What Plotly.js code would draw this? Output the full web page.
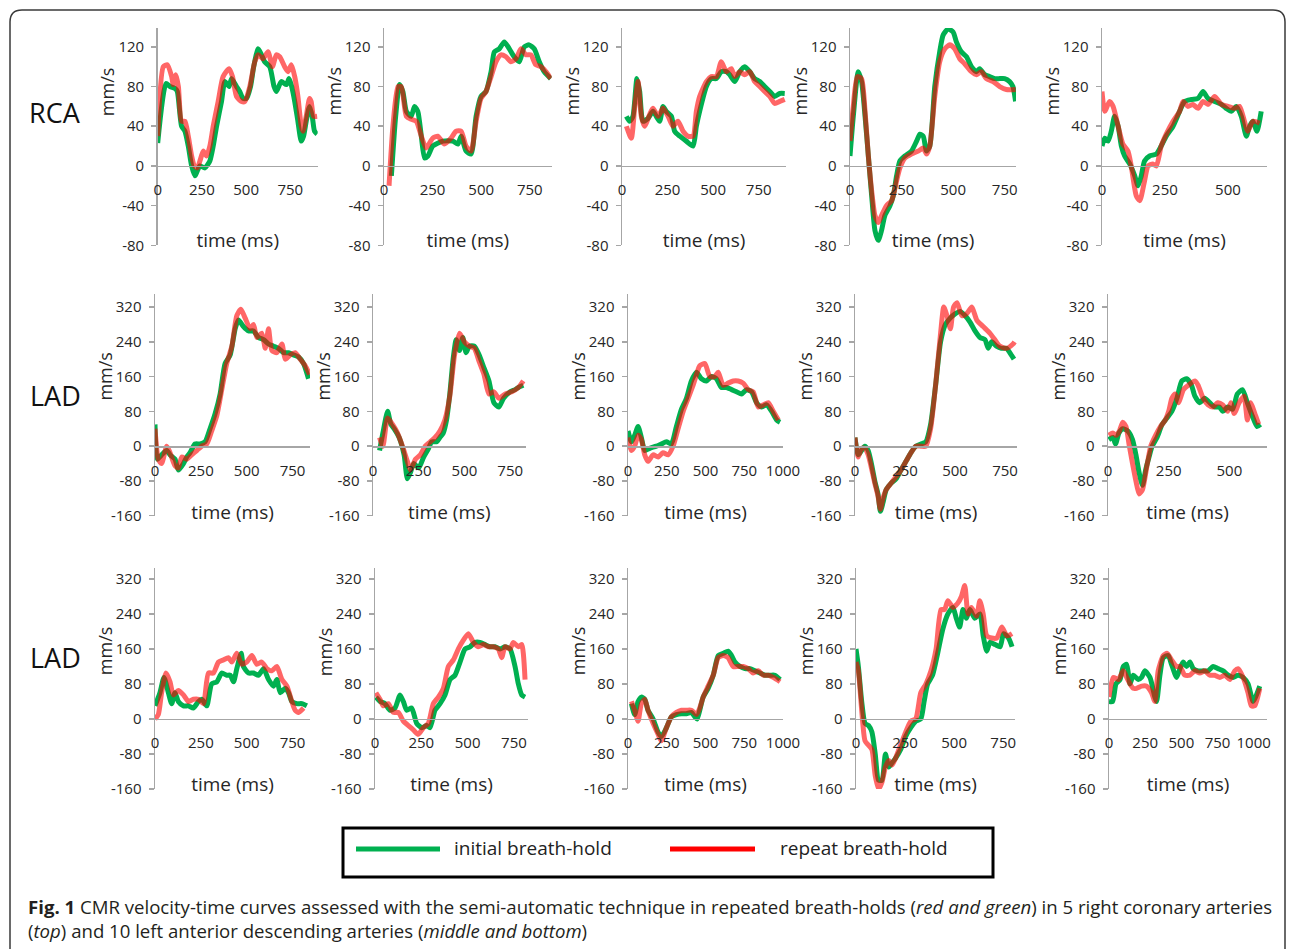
<!DOCTYPE html>
<html>
<head>
<meta charset="utf-8">
<script src="https://cdn.plot.ly/plotly-3.0.1.min.js"></script>
<style>html,body{margin:0;padding:0;background:#fff;}#chart{width:1295px;height:949px;}</style>
</head>
<body>
<div id="chart"></div>
<script>
// ---------------- DATA (time in ms, velocity in mm/s) ----------------
const rowLabels = ['RCA', 'LAD', 'LAD'];
const seriesNames = ['initial breath-hold', 'repeat breath-hold'];
const xTitle = 'time (ms)';
const yTitle = 'mm/s';
const rcaTickVals = [-80, -40, 0, 40, 80, 120];
const rcaTickText = ['-80', '-40', '0', '40', '80', '120'];
const ladTickVals = [-160, -80, 0, 80, 160, 240, 320];
const ladTickText = ['-160', '-80', '0', '80', '160', '240', '320'];

// RCA 1
const rca1_t_init = [0,47,70,98,111,135,154,173,192,211,224,239,267,295,314,333,361,380,404,417,446,464,483,502,525,543,568,587,605,634,658,671,699,728,743,758,775,793,812,825,840,859,874,887,902];
const rca1_v_init = [23,83,80,78,75,40,35,20,0,-10,-5,0,-2,5,20,40,65,85,80,88,80,75,68,68,80,100,118,112,105,100,80,75,85,82,88,80,65,45,25,30,45,60,50,35,32];
const rca1_t_rep = [0,32,55,79,88,103,117,135,154,173,192,207,224,239,258,276,295,314,342,370,404,423,446,474,493,521,549,568,596,624,649,671,690,718,737,756,775,793,812,822,840,859,868,882,902];
const rca1_v_rep = [30,100,102,90,82,92,80,45,45,30,10,0,-2,5,15,10,20,40,65,90,98,90,70,65,65,80,105,112,108,115,100,112,110,100,95,102,90,70,40,35,50,68,65,50,50];
// RCA 2
const rca2_t_init = [38,60,80,97,115,140,157,174,192,209,226,251,303,354,380,397,422,448,474,499,525,551,568,593,619,645,670,696,722,747,773,799,824,858];
const rca2_v_init = [-10,50,82,75,55,50,60,55,30,8,10,20,25,25,22,30,15,12,50,70,75,95,115,118,125,118,110,105,120,122,118,105,95,88];
const rca2_t_rep = [26,46,72,89,115,140,166,192,217,251,277,311,345,371,397,422,448,474,499,525,551,576,602,628,653,679,705,730,756,781,807,833,858];
const rca2_v_rep = [-20,40,80,80,50,47,45,30,18,28,30,22,28,35,35,20,15,45,68,75,90,105,112,110,105,108,118,112,112,102,100,95,88];
// RCA 3
const rca3_t_init = [24,42,60,82,97,115,143,170,188,207,225,243,271,289,317,353,390,408,426,463,490,518,545,573,591,619,646,673,701,728,756,783,811,838,866,893];
const rca3_v_init = [50,45,50,88,75,45,48,55,50,45,60,55,50,35,30,25,20,40,55,80,88,88,95,95,92,85,95,100,95,88,85,80,75,70,73,73];
const rca3_t_rep = [24,51,70,88,106,124,152,170,198,225,253,280,307,335,362,390,408,426,463,490,518,545,573,600,619,646,673,701,728,756,783,811,838,866,893];
const rca3_v_rep = [40,28,60,85,50,40,52,58,50,58,50,40,45,35,30,30,55,70,85,90,90,105,95,98,90,95,92,95,85,80,75,70,63,65,67];
// RCA 4
const rca4_t_init = [0,16,40,56,73,89,105,121,137,153,169,194,210,226,242,266,298,323,339,355,371,387,411,435,452,476,500,516,540,565,589,613,629,653,677,702,726,750,774,790,803];
const rca4_v_init = [10,50,95,85,50,10,-30,-65,-75,-65,-50,-40,-30,-10,5,10,15,25,32,30,15,20,80,115,132,138,135,125,115,110,100,95,98,92,90,88,88,88,85,80,65];
const rca4_t_rep = [0,16,35,56,73,89,105,121,137,153,177,202,226,242,266,298,331,355,371,387,411,435,460,484,508,532,556,589,613,637,661,694,726,758,803];
const rca4_v_rep = [25,60,90,88,55,10,-25,-50,-57,-50,-40,-35,-15,-2,8,12,15,18,12,20,70,105,118,122,118,108,103,95,92,95,88,85,80,77,77];
// RCA 5
const rca5_t_init = [0,11,24,37,50,64,77,90,110,130,143,156,169,189,216,235,255,282,308,328,355,381,401,421,447,474,493,513,533,553,573,586,599,615,632];
const rca5_v_init = [20,28,25,35,50,40,20,10,2,-10,-20,-10,5,10,12,20,30,40,55,65,67,68,75,68,65,62,58,55,60,50,30,40,45,35,55];
const rca5_t_rep = [0,11,30,44,64,83,103,116,136,150,169,183,202,216,235,255,282,308,322,341,361,381,401,421,447,474,500,526,546,560,579,599,626];
const rca5_v_rep = [75,55,65,60,40,22,15,0,-30,-35,-15,0,2,0,20,32,45,55,65,60,62,58,65,62,70,62,60,58,60,50,35,45,43];

// LAD 1
const lad1_t_init = [0,13,36,64,82,109,127,155,173,191,218,246,273,300,328,355,382,410,437,455,482,510,537,564,592,619,646,673,701,728,755,783,810,837];
const lad1_v_init = [50,-30,-20,-10,-20,-30,-55,-40,-25,-15,5,5,10,40,75,120,190,210,270,290,275,265,265,250,245,235,230,225,215,215,210,205,190,155];
const lad1_t_rep = [0,18,36,64,82,109,127,146,173,200,228,255,282,309,337,364,391,419,446,468,491,519,537,555,582,601,619,637,664,692,710,737,764,792,819,843];
const lad1_v_rep = [40,-30,-40,0,-15,-45,-50,-25,-30,-20,-10,0,5,35,70,130,190,230,300,315,295,270,280,250,260,225,270,220,215,235,200,210,215,200,185,165];
// LAD 2
const lad2_t_init = [36,54,80,98,116,143,170,188,205,223,250,277,304,321,348,366,384,402,420,438,455,473,491,509,527,554,580,607,634,661,688,714,750,777,795,822];
const lad2_v_init = [-10,30,80,50,40,20,-20,-75,-60,-40,-50,-25,-5,10,10,20,30,60,120,200,245,220,250,215,230,230,210,180,150,100,90,110,125,130,135,140];
const lad2_t_rep = [36,54,80,107,134,161,188,205,232,259,286,313,339,366,393,420,446,473,500,527,554,580,607,634,661,688,723,759,795,822];
const lad2_v_rep = [20,0,65,50,30,0,-35,-55,-30,-20,0,10,20,35,60,115,210,260,240,230,225,195,165,120,125,110,120,125,135,150];
// LAD 3
const lad3_t_init = [0,22,43,65,86,108,140,183,215,248,280,312,345,377,409,442,474,506,539,571,603,636,668,700,733,765,797,830,862,894,927,959,981];
const lad3_v_init = [35,10,25,45,20,-10,-5,0,5,10,5,45,85,110,150,170,155,150,160,155,135,135,130,125,120,130,125,100,90,95,80,60,55];
const lad3_t_rep = [0,22,43,65,86,108,129,162,194,226,259,291,323,356,388,420,442,463,496,528,560,582,614,646,679,711,743,776,808,840,873,905,937,970];
const lad3_v_rep = [20,-10,0,25,15,-20,-35,-20,-25,-15,-20,0,40,80,110,140,165,185,190,160,160,170,140,145,150,150,145,130,125,90,95,100,80,60];
// LAD 4
const lad4_t_init = [0,16,33,49,66,82,99,115,127,140,156,181,206,230,255,280,304,329,354,378,403,428,452,477,502,526,551,576,600,625,650,666,683,707,732,757,781,795];
const lad4_v_init = [20,-20,-10,0,-10,-40,-80,-110,-150,-130,-100,-85,-75,-55,-35,-15,0,5,10,50,140,240,280,295,305,310,300,285,265,250,245,225,240,230,225,225,210,200];
const lad4_t_rep = [0,16,33,49,66,82,99,115,127,140,156,181,206,230,255,280,304,329,354,378,403,428,444,460,477,493,510,535,559,584,609,641,674,699,724,757,790,798];
const lad4_v_rep = [20,-25,-5,-5,-20,-50,-85,-115,-145,-120,-100,-85,-70,-55,-35,-15,0,0,0,40,140,260,320,300,270,320,330,300,305,320,290,275,260,245,230,225,235,240];
// LAD 5
const lad5_t_init = [3,20,31,45,61,81,101,115,128,142,155,169,182,202,223,243,263,284,304,324,344,358,378,398,419,439,459,473,493,513,533,554,574,594,614,628];
const lad5_v_init = [15,20,5,30,40,35,15,-20,-60,-90,-55,-25,0,20,50,65,80,110,150,155,140,115,100,110,100,90,90,80,90,85,120,130,100,70,45,50];
const lad5_t_rep = [3,20,34,47,61,74,88,101,115,128,142,162,176,196,216,236,250,263,277,290,311,331,358,371,392,412,432,452,473,493,506,520,540,560,574,587,608,621];
const lad5_v_rep = [25,30,25,35,55,45,0,-40,-80,-110,-100,-40,0,25,45,60,80,110,120,100,130,140,150,140,110,95,90,100,95,80,100,75,100,115,60,100,70,50];

// LAD 6
const lad6_t_init = [0,27,49,73,91,109,127,155,182,209,237,255,282,309,337,364,391,410,428,446,470,482,510,537,564,592,619,646,664,683,710,728,746,773,801,828];
const lad6_v_init = [30,60,95,60,35,60,40,30,30,25,40,45,30,80,85,105,100,100,85,115,150,120,105,105,100,115,90,75,90,60,70,60,40,35,35,30];
const lad6_t_rep = [0,18,36,60,82,100,127,155,182,209,237,264,291,318,346,373,400,419,446,473,500,528,555,582,610,637,664,692,719,746,764,783,810];
const lad6_v_rep = [0,10,60,105,85,55,65,55,40,45,45,35,105,105,130,135,140,130,150,125,130,145,125,130,115,110,120,90,75,40,20,15,25];
// LAD 7
const lad7_t_init = [5,27,54,81,108,135,153,171,198,225,252,279,297,324,351,378,405,432,459,486,513,540,567,594,621,648,675,702,729,756,774,792,810];
const lad7_v_init = [50,40,35,20,25,55,40,20,25,-10,-20,-15,-20,20,35,55,90,100,130,160,165,175,175,170,165,165,160,165,160,120,80,55,50];
const lad7_t_rep = [5,27,45,72,99,126,153,180,207,234,261,288,315,342,369,396,423,450,477,504,531,558,585,612,639,666,684,702,729,747,774,792,810];
const lad7_v_rep = [60,45,30,35,15,15,-5,-15,-25,-35,-20,-10,35,50,70,120,135,160,180,195,175,165,170,165,165,160,140,165,160,175,165,170,90];
// LAD 8
const lad8_t_init = [22,43,65,86,108,129,162,194,215,248,280,312,345,377,409,431,446,463,485,517,550,582,614,646,668,690,722,754,787,819,851,884,916,948,981];
const lad8_v_init = [35,10,40,50,45,20,0,-30,-40,-20,5,10,12,12,15,5,0,20,50,70,100,145,150,155,145,130,120,115,115,110,105,100,100,100,90];
const lad8_t_rep = [22,43,65,86,108,129,162,194,215,248,280,312,345,377,409,442,463,485,517,550,582,614,646,679,711,743,776,808,840,873,905,937,981];
const lad8_v_rep = [40,20,-5,35,45,20,-10,-35,-50,-20,5,15,20,20,20,10,25,50,75,100,140,145,140,120,120,120,115,105,110,100,100,95,85];
// LAD 9
const lad9_t_init = [0,12,29,46,64,81,98,115,132,150,167,184,201,227,253,279,304,330,347,365,390,416,442,468,494,511,528,545,562,580,605,631,648,666,683,709,734,752,777,795];
const lad9_v_init = [160,120,40,-10,-15,-30,-80,-140,-140,-80,-110,-100,-90,-70,-40,-20,-5,0,40,80,100,150,205,240,255,230,210,250,230,250,230,240,190,155,175,170,165,195,185,165];
const lad9_t_rep = [0,12,29,46,64,81,98,115,132,150,167,184,201,227,253,279,304,330,356,382,408,433,451,468,494,519,537,554,571,588,614,631,648,666,691,717,743,769,795];
const lad9_v_rep = [130,110,20,-50,-60,-70,-130,-160,-145,-110,-95,-105,-90,-60,-30,-5,0,60,80,110,160,250,250,270,255,265,280,305,240,255,235,270,240,190,185,185,210,190,195];
// LAD 10
const lad10_t_init = [0,25,48,76,99,122,145,168,202,225,248,283,317,329,352,375,409,432,467,490,513,536,559,582,616,651,685,720,754,789,823,858,892,927,961,996,1019,1042];
const lad10_v_init = [40,40,80,90,120,125,80,100,90,95,110,95,50,40,100,140,145,125,95,115,130,120,130,115,110,110,110,120,115,110,100,95,100,95,80,40,55,75];
const lad10_t_rep = [0,30,64,99,122,145,168,191,225,260,294,317,340,375,402,432,467,490,524,559,593,628,662,697,731,766,800,835,869,892,927,961,984,1007,1042];
const lad10_v_rep = [50,95,90,110,95,80,70,70,75,75,60,40,110,145,150,135,120,120,100,100,110,105,110,100,100,95,100,90,110,115,95,60,30,30,70];

// ---------------- GEOMETRY / STYLE ----------------
const W = 1295, H = 949;
const GREEN = '#00b050', RED = '#ff0000', AXIS = '#a6a6a6', TXT = '#262626';
const FONT = 'Open Sans, Noto Sans, sans-serif';
const px2x = px => px / W;
const px2y = py => 1 - py / H;

const ROWS = [
  {ypx: [28, 245.3], yr: [-80, 139], tv: rcaTickVals, tt: rcaTickText, mmY: 75, labY: 113, standoff: 35},
  {ypx: [294, 515.7], yr: [-160, 350], tv: ladTickVals, tt: ladTickText, mmY: 160, labY: 395, standoff: 27},
  {ypx: [568, 789], yr: [-160, 345], tv: ladTickVals, tt: ladTickText, mmY: 155, labY: 657, standoff: 26}
];

const PANELS = [
  {row: 0, xpx: [157.7, 317.7], xmax: 905, init: [rca1_t_init, rca1_v_init], rep: [rca1_t_rep, rca1_v_rep]},
  {row: 0, xpx: [384, 551.7], xmax: 863, init: [rca2_t_init, rca2_v_init], rep: [rca2_t_rep, rca2_v_rep]},
  {row: 0, xpx: [622, 786], xmax: 900, init: [rca3_t_init, rca3_v_init], rep: [rca3_t_rep, rca3_v_rep]},
  {row: 0, xpx: [850, 1016], xmax: 805, init: [rca4_t_init, rca4_v_init], rep: [rca4_t_rep, rca4_v_rep]},
  {row: 0, xpx: [1102, 1267], xmax: 655, init: [rca5_t_init, rca5_v_init], rep: [rca5_t_rep, rca5_v_rep]},
  {row: 1, xpx: [155, 310], xmax: 845, init: [lad1_t_init, lad1_v_init], rep: [lad1_t_rep, lad1_v_rep]},
  {row: 1, xpx: [373, 525.7], xmax: 835, init: [lad2_t_init, lad2_v_init], rep: [lad2_t_rep, lad2_v_rep]},
  {row: 1, xpx: [628, 783], xmax: 1000, init: [lad3_t_init, lad3_v_init], rep: [lad3_t_rep, lad3_v_rep]},
  {row: 1, xpx: [855, 1017], xmax: 810, init: [lad4_t_init, lad4_v_init], rep: [lad4_t_rep, lad4_v_rep]},
  {row: 1, xpx: [1108, 1267], xmax: 655, init: [lad5_t_init, lad5_v_init], rep: [lad5_t_rep, lad5_v_rep]},
  {row: 2, xpx: [155, 310], xmax: 845, init: [lad6_t_init, lad6_v_init], rep: [lad6_t_rep, lad6_v_rep]},
  {row: 2, xpx: [375, 528], xmax: 826, init: [lad7_t_init, lad7_v_init], rep: [lad7_t_rep, lad7_v_rep]},
  {row: 2, xpx: [628, 783], xmax: 1000, init: [lad8_t_init, lad8_v_init], rep: [lad8_t_rep, lad8_v_rep]},
  {row: 2, xpx: [856, 1015], xmax: 810, init: [lad9_t_init, lad9_v_init], rep: [lad9_t_rep, lad9_v_rep]},
  {row: 2, xpx: [1109, 1267], xmax: 1092, init: [lad10_t_init, lad10_v_init], rep: [lad10_t_rep, lad10_v_rep]}
];

const traces = [];
const layout = {
  width: W, height: H,
  margin: {l: 0, r: 0, t: 0, b: 0},
  paper_bgcolor: '#ffffff', plot_bgcolor: 'rgba(0,0,0,0)',
  showlegend: false,
  font: {family: FONT, color: TXT},
  annotations: [], shapes: []
};

PANELS.forEach((p, i) => {
  const s = i === 0 ? '' : String(i + 1);
  const R = ROWS[p.row];
  const pxPerUnit = (R.ypx[1] - R.ypx[0]) / (R.yr[1] - R.yr[0]);
  const zeroPx = R.ypx[1] - (0 - R.yr[0]) * pxPerUnit;
  traces.push({
    x: p.init[0], y: p.init[1], xaxis: 'x' + s, yaxis: 'y' + s,
    type: 'scatter', mode: 'lines', name: seriesNames[0], hoverinfo: 'skip',
    line: {color: GREEN, width: 5, shape: 'spline', smoothing: 0.6}
  });
  traces.push({
    x: p.rep[0], y: p.rep[1], xaxis: 'x' + s, yaxis: 'y' + s,
    type: 'scatter', mode: 'lines', name: seriesNames[1], hoverinfo: 'skip', opacity: 0.6,
    line: {color: RED, width: 5, shape: 'spline', smoothing: 0.6}
  });
  layout['xaxis' + s] = {
    domain: [px2x(p.xpx[0]), px2x(p.xpx[1])], range: [0, p.xmax],
    anchor: 'free', position: px2y(zeroPx),
    showline: true, linecolor: AXIS, linewidth: 1.5,
    showgrid: false, zeroline: false,
    ticks: 'outside', ticklen: 10, tickcolor: 'rgba(0,0,0,0)',
    tick0: 0, dtick: 250,
    tickfont: {family: FONT, size: 15, color: TXT},
    title: {text: xTitle, font: {family: FONT, size: 19, color: TXT}, standoff: R.standoff}
  };
  layout['yaxis' + s] = {
    domain: [px2y(R.ypx[1]), px2y(R.ypx[0])], range: R.yr,
    anchor: 'x' + s,
    showline: true, linecolor: AXIS, linewidth: 1.5,
    showgrid: false, zeroline: false,
    ticks: 'outside', ticklen: 5, tickwidth: 1.5, tickcolor: AXIS,
    tickmode: 'array', tickvals: R.tv, ticktext: R.tt, ticklabelstandoff: 4,
    tickfont: {family: FONT, size: 15, color: TXT}
  };
  layout.annotations.push({
    text: yTitle, xref: 'x' + s + ' domain', yref: 'y' + s,
    x: 0, y: R.mmY, xshift: -50, xanchor: 'center', yanchor: 'middle',
    textangle: -90, showarrow: false,
    font: {family: FONT, size: 18, color: TXT}
  });
});

// row labels
ROWS.forEach((R, r) => {
  layout.annotations.push({
    text: rowLabels[r], xref: 'paper', yref: 'paper',
    x: px2x(55), y: px2y(R.labY), xanchor: 'center', yanchor: 'middle',
    showarrow: false, font: {family: FONT, size: 27, color: '#111'}
  });
});

// outer rounded frame
(function(){
  const x0 = px2x(10), x1 = px2x(1285), yt = px2y(10), yb = px2y(990);
  const rx = 12 / W, ry = 12 / H;
  layout.shapes.push({
    type: 'path', xref: 'paper', yref: 'paper', layer: 'below',
    path: `M ${x0},${yb} L ${x0},${yt - ry} Q ${x0},${yt} ${x0 + rx},${yt} L ${x1 - rx},${yt} Q ${x1},${yt} ${x1},${yt - ry} L ${x1},${yb}`,
    line: {color: '#3a3a3a', width: 1.5}
  });
})();

// legend box
layout.shapes.push({type: 'rect', xref: 'paper', yref: 'paper',
  x0: px2x(343), x1: px2x(993), y0: px2y(877), y1: px2y(828),
  line: {color: '#000', width: 3}, fillcolor: 'rgba(0,0,0,0)'});
layout.shapes.push({type: 'line', xref: 'paper', yref: 'paper',
  x0: px2x(356), x1: px2x(440), y0: px2y(849), y1: px2y(849),
  line: {color: GREEN, width: 5}});
layout.shapes.push({type: 'line', xref: 'paper', yref: 'paper',
  x0: px2x(670), x1: px2x(755), y0: px2y(849), y1: px2y(849),
  line: {color: RED, width: 5}});
layout.annotations.push({text: seriesNames[0], xref: 'paper', yref: 'paper',
  x: px2x(452), y: px2y(848), xanchor: 'left', yanchor: 'middle', showarrow: false,
  font: {family: FONT, size: 19, color: '#222'}});
layout.annotations.push({text: seriesNames[1], xref: 'paper', yref: 'paper',
  x: px2x(778), y: px2y(848), xanchor: 'left', yanchor: 'middle', showarrow: false,
  font: {family: FONT, size: 19, color: '#222'}});

// caption
layout.annotations.push({
  text: '<b>Fig. 1</b> CMR velocity-time curves assessed with the semi-automatic technique in repeated breath-holds (<i>red and green</i>) in 5 right coronary arteries<br>(<i>top</i>) and 10 left anterior descending arteries (<i>middle and bottom</i>)',
  xref: 'paper', yref: 'paper', x: px2x(26), y: px2y(892),
  xanchor: 'left', yanchor: 'top', align: 'left', showarrow: false,
  font: {family: 'Open Sans, Noto Sans, sans-serif', size: 18.6, color: '#231f20'}
});

Plotly.newPlot('chart', traces, layout, {staticPlot: true, displayModeBar: false});
</script>
</body>
</html>
